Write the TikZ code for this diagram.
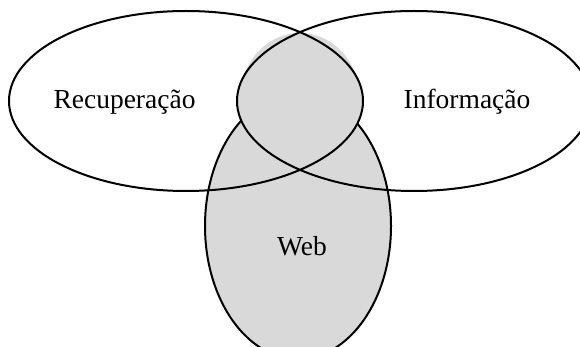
\documentclass[tikz,border=0pt]{standalone}
\usepackage{fontspec}
\setmainfont{Liberation Serif}
\definecolor{venngray}{HTML}{D9D9D9}
\tikzset{
  setline/.style={line width=2pt, draw=black},
  label/.style={font=\fontsize{27.5}{33}\selectfont, anchor=base, inner sep=0pt}
}
\begin{document}
\begin{tikzpicture}[x=1pt,y=-1pt]
\useasboundingbox (0,0) rectangle (580,347);
\clip (0,0) rectangle (580,347);
\fill[white] (0,0) rectangle (580,347);
% Web set
\filldraw[fill=venngray, setline] (298,226) ellipse [x radius=93pt, y radius=133pt];
% gray bump behind the lens
\fill[venngray] (300,99) ellipse [x radius=60pt, y radius=66pt];
% lens fill
\begin{scope}
  \clip (186,101) ellipse [x radius=177pt, y radius=90pt];
  \fill[venngray] (414,101) ellipse [x radius=177pt, y radius=90pt];
\end{scope}
% outlines
\draw[setline] (186,101) ellipse [x radius=177pt, y radius=90pt];
\draw[setline] (414,101) ellipse [x radius=177pt, y radius=90pt];
% labels
\node[label] (rec) at (124.5,109) {Recuperação};
\node[label] (inf) at (467,109) {Informação};
\node[label] (web) at (302,255) {Web};
\end{tikzpicture}
\end{document}
